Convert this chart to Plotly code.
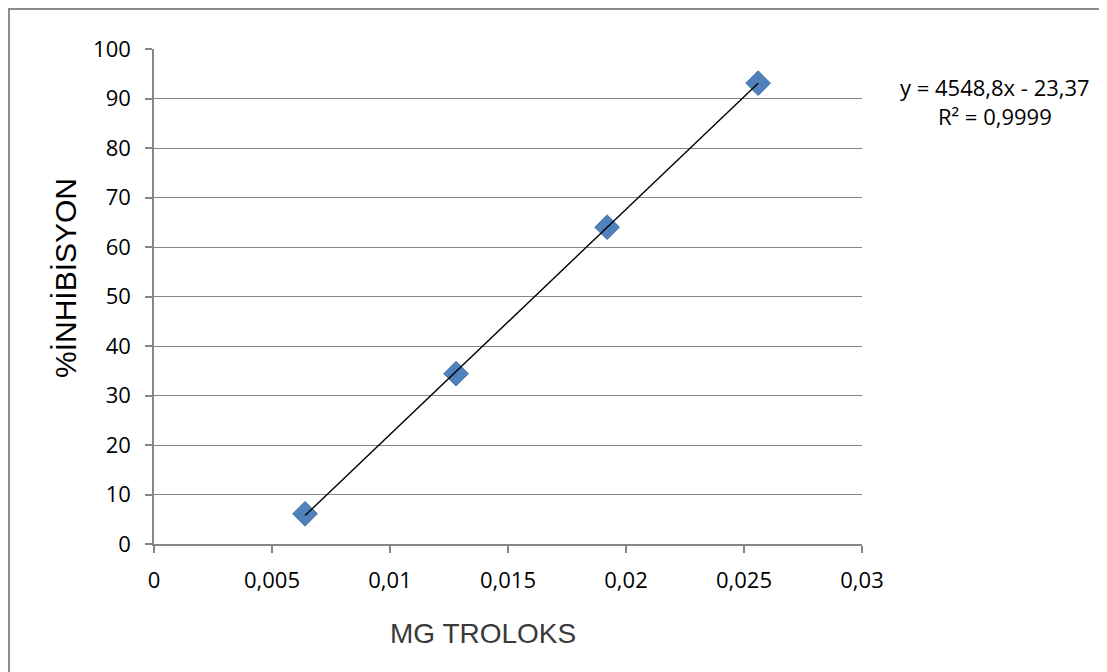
import plotly.graph_objects as go

mg_troloks = [0.0064, 0.0128, 0.0192, 0.0256]
inhibisyon = [6.1, 34.4, 64.0, 93.1]
slope = 4548.8
intercept = -23.37
equation_text = "y = 4548,8x - 23,37<br>R² = 0,9999"

trend_x = [mg_troloks[0], mg_troloks[-1]]
trend_y = [slope * v + intercept for v in trend_x]

# plot area in figure pixels (page is offset by 8px body margin)
L, R, T, B = 146, 854, 41, 536
PW, PH = R - L, B - T

fig = go.Figure()
fig.add_trace(go.Scatter(
    x=mg_troloks, y=inhibisyon, mode="markers",
    marker=dict(symbol="diamond", size=19, color="#4F81BD",
                line=dict(color="#4472A8", width=1)),
    showlegend=False, hoverinfo="x+y"))
fig.add_trace(go.Scatter(
    x=trend_x, y=trend_y, mode="lines",
    line=dict(color="black", width=1.4), showlegend=False))

axis_common = dict(showline=True, linecolor="#868686", linewidth=1.5,
                   ticks="outside", ticklen=7, tickcolor="#868686", tickwidth=1.5,
                   tickfont=dict(size=22, color="black"), zeroline=False,
                   fixedrange=True)

fig.update_layout(
    width=1107, height=672,
    margin=dict(l=L, r=1107 - R, t=T, b=672 - B),
    paper_bgcolor="white", plot_bgcolor="white",
    separators=",.",
    font=dict(family="Open Sans, Liberation Sans, sans-serif", size=22, color="black"),
    xaxis=dict(range=[0, 0.03], dtick=0.005, tick0=0, showgrid=False,
               ticklabelstandoff=9, **axis_common),
    yaxis=dict(range=[0, 100], dtick=10, showgrid=True, gridcolor="#868686",
               gridwidth=1.3, ticklabelstandoff=10, **axis_common),
    shapes=[dict(type="rect", xref="paper", yref="paper",
                 x0=(1 - L) / PW, x1=(1097 - L) / PW, y0=-0.5, y1=(B - 1) / PH,
                 line=dict(color="#8C8C8C", width=2), fillcolor="rgba(0,0,0,0)",
                 layer="below")],
    annotations=[
        dict(text=equation_text, xref="paper", yref="paper",
             x=(987 - L) / PW, y=(B - 93) / PH, showarrow=False,
             align="center", xanchor="center", yanchor="middle",
             font=dict(size=22, color="black")),
        dict(text="%İNHİBİSYON", xref="paper", yref="paper",
             x=(57 - L) / PW, y=(B - 270) / PH, showarrow=False,
             textangle=-90, xanchor="center", yanchor="middle",
             font=dict(family="Liberation Sans, Arial, sans-serif", size=30, color="black")),
        dict(text="MG TROLOKS", xref="paper", yref="paper",
             x=(475 - L) / PW, y=-(625 - B) / PH, showarrow=False,
             xanchor="center", yanchor="middle",
             font=dict(family="Liberation Sans, Arial, sans-serif", size=28, color="#3A3A3A")),
    ],
)

fig.write_html("out.html")
